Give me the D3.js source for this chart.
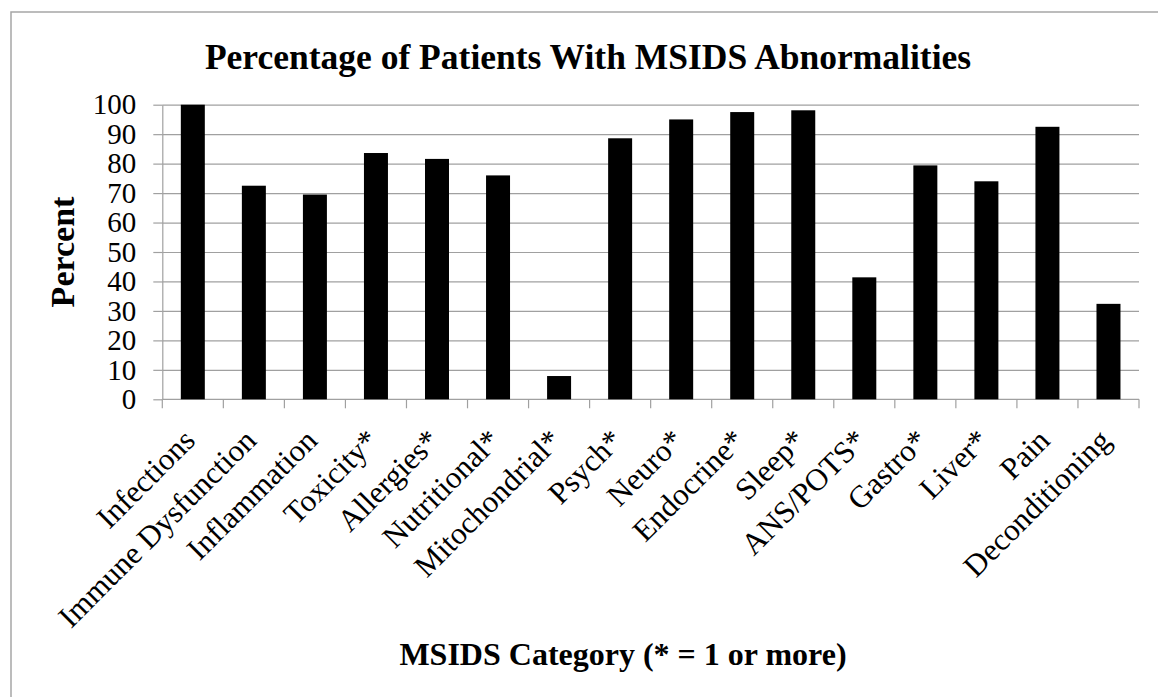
<!DOCTYPE html>
<html>
<head>
<meta charset="utf-8">
<script src="https://cdn.jsdelivr.net/npm/d3@7"></script>
<style>
	body { margin: 0; background: #fff; }
	svg text { font-family: "Liberation Serif", "Times New Roman", serif !important; fill: #000; }
	.gridlines line { stroke: #a0a0a0; stroke-width: 1.2; }
	.gridlines path { stroke: none; }
	.yAxis path, .xAxis path { stroke: #a0a0a0; stroke-width: 1.2; }
	.yAxis line, .xAxis line { stroke: #a0a0a0; stroke-width: 1.2; }
</style>
</head>
<body>
<div id="figure"></div>
<script>
var categories = ["Infections", "Immune Dysfunction", "Inflammation", "Toxicity*", "Allergies*", "Nutritional*",
	"Mitochondrial*", "Psych*", "Neuro*", "Endocrine*", "Sleep*", "ANS/POTS*", "Gastro*", "Liver*", "Pain", "Deconditioning"];
var percents = [100, 72.5, 69.5, 83.6, 81.6, 76.0, 7.9, 88.6, 95.0, 97.5, 98.1, 41.4, 79.4, 74.0, 92.5, 32.4];
var yTicks = [0, 10, 20, 30, 40, 50, 60, 70, 80, 90, 100];

var w = 1158;
var h = 697;
var margin = {
	top: 104.7,
	right: 19,
	bottom: 297.7,
	left: 162.3
};
var chartWidth = w - margin.left - margin.right;
var chartHeight = h - margin.top - margin.bottom;

var svg = d3.select('#figure')
	.append('svg')
	.attr('width', w)
	.attr('height', h);

// chart frame (runs off the right and bottom edge)
svg.append('rect')
	.attr('x', 11)
	.attr('y', 12)
	.attr('width', 1170)
	.attr('height', 720)
	.attr('fill', 'none')
	.attr('stroke', '#a6a6a6')
	.attr('stroke-width', 1.5);

svg.append('text')
	.attr('x', 588)
	.attr('y', 69)
	.attr('text-anchor', 'middle')
	.attr('font-size', 35.5)
	.attr('font-weight', 'bold')
	.text('Percentage of Patients With MSIDS Abnormalities');

var chart = svg.append('g')
	.attr('transform', 'translate(' + margin.left + ',' + margin.top + ')');

var xScale = d3.scaleBand()
	.domain(categories)
	.range([0, chartWidth])
	.paddingInner(0.607)
	.paddingOuter(0.3035);

var xBoundary = d3.scaleLinear()
	.domain([0, categories.length])
	.range([0, chartWidth]);

var yScale = d3.scaleLinear()
	.domain([0, 100])
	.range([chartHeight, 0]);

//Gridlines
chart.append('g')
	.classed('gridlines', true)
	.call(d3.axisLeft(yScale)
		.tickValues(yTicks.slice(1))
		.tickSize(-chartWidth)
		.tickFormat('')
	);

//Y axis
var yAxis = chart.append('g')
	.classed('yAxis', true)
	.call(d3.axisLeft(yScale)
		.tickValues(yTicks)
		.tickSize(9)
		.tickSizeOuter(0)
		.tickPadding(17)
	);
yAxis.attr('font-family', '"Liberation Serif", serif');
yAxis.selectAll('text')
	.attr('font-size', 29);

//X axis with ticks between categories
var xAxis = chart.append('g')
	.classed('xAxis', true)
	.attr('transform', 'translate(0,' + chartHeight + ')');
xAxis.append('line')
	.attr('x1', 0)
	.attr('x2', chartWidth)
	.attr('y1', 0)
	.attr('y2', 0);
xAxis.selectAll('line.tick')
	.data(d3.range(categories.length + 1))
	.enter()
	.append('line')
	.classed('tick', true)
	.attr('x1', function(d){ return xBoundary(d); })
	.attr('x2', function(d){ return xBoundary(d); })
	.attr('y1', 0)
	.attr('y2', 9);

xAxis.selectAll('text')
	.data(categories)
	.enter()
	.append('text')
	.attr('font-size', 31)
	.attr('text-anchor', 'end')
	.attr('transform', function(d){
		return 'translate(' + (xScale(d) + xScale.bandwidth() / 2 + 4) + ',43) rotate(-45)';
	})
	.text(function(d){ return d; });

//Bars
chart.selectAll('rect.bar')
	.data(percents)
	.enter()
	.append('rect')
	.classed('bar', true)
	.attr('x', function(d, i){ return xScale(categories[i]); })
	.attr('y', function(d){ return yScale(d); })
	.attr('width', xScale.bandwidth())
	.attr('height', function(d){ return chartHeight - yScale(d); })
	.attr('fill', '#000');

//Axis titles
svg.append('text')
	.attr('transform', 'translate(74,' + (margin.top + chartHeight / 2) + ') rotate(-90)')
	.attr('text-anchor', 'middle')
	.attr('font-size', 34)
	.attr('font-weight', 'bold')
	.text('Percent');

svg.append('text')
	.attr('x', 623)
	.attr('y', 665)
	.attr('text-anchor', 'middle')
	.attr('font-size', 32)
	.attr('font-weight', 'bold')
	.text('MSIDS Category (* = 1 or more)');
</script>
</body>
</html>
